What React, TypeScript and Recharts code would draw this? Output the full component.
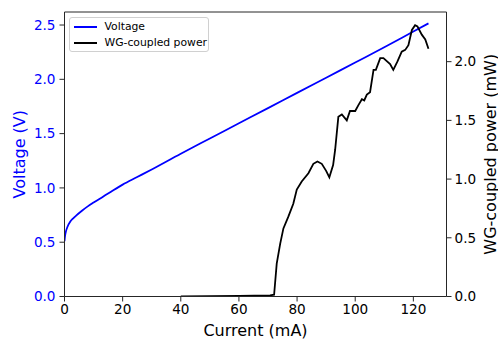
import React from 'react';
import {
  LineChart,
  Line,
  XAxis,
  YAxis,
  Legend,
  Label,
  ReferenceLine,
} from 'recharts';

// Current (mA) vs voltage (V)
const voltageCurrent = [0, 0.2, 0.5, 1, 2, 3, 4, 6, 8, 10, 13, 16, 20, 25, 30, 40, 50, 60, 70, 80, 90, 100, 110, 120, 125.2];
const voltageValues = [
  0.51, 0.56, 0.6, 0.64, 0.69, 0.72, 0.745, 0.79, 0.83, 0.865, 0.915, 0.965, 1.03, 1.1, 1.17, 1.315, 1.455, 1.595,
  1.735, 1.875, 2.015, 2.155, 2.295, 2.44, 2.515,
];

// Current (mA) vs WG-coupled power (mW)
const powerCurrent = [
  40, 50, 60, 70.7, 72.1, 73.0, 74.2, 75.3, 77.0, 78.7, 79.9, 81.6, 83.9, 85.6, 87.0, 88.5, 90.0, 91.1, 92.4,
  93.1, 94.2, 95.4, 97.1, 98.2, 100.0, 101.1, 102.3, 103.1, 104.0, 105.1, 106.3, 107.1, 108.6, 109.7, 112.0,
  113.1, 114.5, 116.0, 117.2, 118.3, 119.5, 120.6, 121.4, 122.9, 124.1, 125.2,
];
const powerValues = [
  0, 0.003, 0.006, 0.01, 0.015, 0.28, 0.45, 0.58, 0.68, 0.79, 0.91, 0.98, 1.05, 1.13, 1.15, 1.13, 1.07, 1.015, 1.12,
  1.25, 1.53, 1.55, 1.5, 1.58, 1.58, 1.63, 1.68, 1.67, 1.72, 1.74, 1.93, 1.93, 2.03, 2.03, 1.98,
  1.93, 2.0, 2.085, 2.1, 2.14, 2.27, 2.31, 2.3, 2.23, 2.19, 2.11,
];

const xTicks = [0, 20, 40, 60, 80, 100, 120];
const voltageTicks = [0, 0.5, 1, 1.5, 2, 2.5];
const powerTicks = [0, 0.5, 1, 1.5, 2];

const voltageData = voltageCurrent.map((c, i) => ({ current: c, voltage: voltageValues[i] }));
const powerData = powerCurrent.map((c, i) => ({ current: c, power: powerValues[i] }));

const FONT = '"DejaVu Sans", sans-serif';
const AXIS = '#262626';

const legendItems = [
  { name: 'Voltage', color: '#0000ff' },
  { name: 'WG-coupled power', color: '#000000' },
];

const ChartLegend = () => (
  <div
    style={{
      width: 140,
      height: 35,
      border: '1px solid #d0d0d0',
      borderRadius: 3,
      background: 'rgba(255,255,255,0.8)',
      fontFamily: FONT,
      fontSize: 10.8,
      lineHeight: '16px',
      color: '#000',
      boxSizing: 'border-box',
      paddingTop: 1,
      whiteSpace: 'nowrap',
      textAlign: 'left',
    }}
  >
    {legendItems.map((item) => (
      <div key={item.name} style={{ display: 'flex', alignItems: 'center', height: 16 }}>
        <div style={{ width: 23, height: 1.8, background: item.color, marginLeft: 3.5, marginRight: 8, flexShrink: 0 }} />
        <span>{item.name}</span>
      </div>
    ))}
  </div>
);

const rotatedLabel = (text: string, x: number, color: string) => (props: any) => {
  const vb = props.viewBox;
  const y = vb.y + vb.height / 2;
  return (
    <text
      x={x}
      y={y}
      transform={`rotate(-90, ${x}, ${y})`}
      textAnchor="middle"
      dominantBaseline="central"
      fill={color}
      fontSize={16}
      fontFamily={FONT}
    >
      {text}
    </text>
  );
};

const xLabel = (props: any) => {
  const vb = props.viewBox;
  return (
    <text
      x={vb.x + vb.width / 2}
      y={330}
      textAnchor="middle"
      dominantBaseline="central"
      fill="#000"
      fontSize={16}
      fontFamily={FONT}
    >
      Current (mA)
    </text>
  );
};

const App: React.FC = () => {
  return (
    <div style={{ position: 'fixed', left: 0, top: 0, width: 498, height: 341, background: '#fff' }}>
      <LineChart width={498} height={341} margin={{ top: 12, right: 0, bottom: 0, left: 0 }}>
        <XAxis
          dataKey="current"
          type="number"
          domain={[0, 131.4]}
          ticks={xTicks}
          allowDataOverflow
          height={44.5}
          stroke={AXIS}
          tickSize={5}
          tickMargin={3}
          tick={{ fill: '#000', fontSize: 13.6, fontFamily: FONT }}
          tickLine={{ stroke: AXIS }}
        >
          <Label content={xLabel} />
        </XAxis>
        <YAxis
          yAxisId="v"
          orientation="left"
          domain={[0, 2.62]}
          ticks={voltageTicks}
          allowDataOverflow
          width={64.5}
          stroke={AXIS}
          tickSize={5}
          tickMargin={4}
          tickFormatter={(v: number) => v.toFixed(1)}
          tick={{ fill: '#0000ff', fontSize: 13.6, fontFamily: FONT }}
          tickLine={{ stroke: AXIS }}
        >
          <Label content={rotatedLabel('Voltage (V)', 19.5, '#0000ff')} />
        </YAxis>
        <YAxis
          yAxisId="p"
          orientation="right"
          domain={[0, 2.423]}
          ticks={powerTicks}
          allowDataOverflow
          width={51.5}
          stroke={AXIS}
          tickSize={5}
          tickMargin={3}
          tickFormatter={(v: number) => v.toFixed(1)}
          tick={{ fill: '#000', fontSize: 13.6, fontFamily: FONT }}
          tickLine={{ stroke: AXIS }}
        >
          <Label content={rotatedLabel('WG-coupled power (mW)', 490, '#000')} />
        </YAxis>
        <ReferenceLine yAxisId="v" y={2.62} stroke={AXIS} ifOverflow="visible" />
        <Line
          yAxisId="v"
          data={voltageData}
          dataKey="voltage"
          type="monotone"
          stroke="#0000ff"
          strokeWidth={1.8}
          dot={false}
          isAnimationActive={false}
        />
        <Line
          yAxisId="p"
          data={powerData}
          dataKey="power"
          type="linear"
          stroke="#000000"
          strokeWidth={1.8}
          dot={false}
          isAnimationActive={false}
        />
        <Legend
          layout="vertical"
          align="center"
          verticalAlign="middle"
          content={<ChartLegend />}
          wrapperStyle={{ position: 'absolute', left: 69, top: 17, width: 140, height: 35 }}
        />
      </LineChart>
    </div>
  );
};

export default App;
